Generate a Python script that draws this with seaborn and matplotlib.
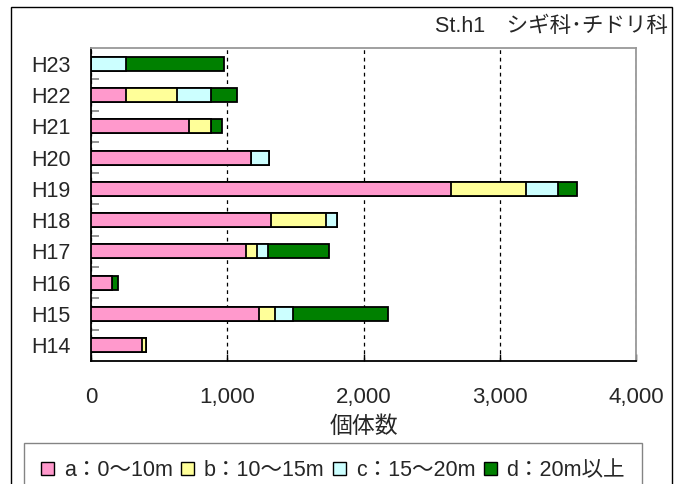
import matplotlib
matplotlib.use("Agg")
import matplotlib.pyplot as plt
from matplotlib.patches import Patch, Rectangle
from matplotlib.ticker import FuncFormatter, FixedLocator
import pandas as pd
import seaborn as sns

# Survey years (top to bottom) and individual counts by distance band
years = ["H23", "H22", "H21", "H20", "H19", "H18", "H17", "H16", "H15", "H14"]
band_a = [0, 257, 716, 1174, 2639, 1319, 1138, 157, 1236, 372]
band_b = [0, 376, 162, 0, 552, 406, 80, 0, 114, 34]
band_c = [257, 245, 0, 132, 233, 83, 83, 0, 133, 0]
band_d = [720, 195, 85, 0, 146, 0, 444, 39, 700, 0]

band_labels = ["a：0～10m", "b：10～15m", "c：15～20m", "d：20m以上"]
band_colors = ["#FF99CC", "#FFFF99", "#CCFFFF", "#008000"]
x_ticks = [0, 1000, 2000, 3000, 4000]

df = pd.DataFrame({"year": years, "a": band_a, "b": band_b, "c": band_c, "d": band_d})
cols = ["a", "b", "c", "d"]
cum = df[cols].cumsum(axis=1)
for col in cols:
    df["cum_" + col] = cum[col]

sns.set_theme(style="white")
plt.rcParams["font.family"] = ["Liberation Sans", "Noto Sans CJK JP", "DejaVu Sans"]

fig = plt.figure(figsize=(6.8, 4.84), dpi=100)
ax = fig.add_axes([91 / 680, 1 - 361 / 484, (636 - 91) / 680, (361 - 48) / 484])

# Stacked bars: draw running totals from the outermost band inwards
for col, color in reversed(list(zip(cols, band_colors))):
    sns.barplot(data=df, x="cum_" + col, y="year", order=years, orient="h",
                color=color, saturation=1, edgecolor="black", linewidth=1.3,
                width=0.45, errorbar=None, ax=ax, zorder=3)

ax.set_xlim(0, 4000)
ax.set_ylim(len(years) - 0.5, -0.5)
ax.xaxis.set_major_locator(FixedLocator(x_ticks))
ax.xaxis.set_major_formatter(FuncFormatter(lambda v, p: f"{int(v):,}"))
ax.grid(axis="x", color="black", linestyle=(0, (3, 3)), linewidth=0.9, zorder=1)
ax.set_axisbelow(True)

ax.tick_params(axis="x", direction="in", length=5, width=1, color="black",
               labelsize=16, pad=19, bottom=True)
ax.tick_params(axis="y", length=0, labelsize=15.5, pad=14.5)
ax.yaxis.set_minor_locator(FixedLocator([i + 0.5 for i in range(len(years) - 1)]))
ax.tick_params(axis="y", which="minor", direction="in", length=6, width=1.2,
               color="#808080", left=True)

for side in ["left", "bottom"]:
    ax.spines[side].set_color("black")
    ax.spines[side].set_linewidth(1.3)
for side in ["top", "right"]:
    ax.spines[side].set_color("#999999")
    ax.spines[side].set_linewidth(1.3)

ax.set_ylabel("")
ax.set_xlabel("個体数", fontsize=16.5, labelpad=5)

fig.text(668 / 680, 1 - 27 / 484, "St.h1　シギ科･チドリ科", ha="right", va="center",
         fontsize=15.5)

handles = [Patch(facecolor=c, edgecolor="black", linewidth=1.0) for c in band_colors]
leg_top = 1 - 443 / 484
leg_h = 0.1
leg = fig.legend(handles, band_labels, loc="upper left",
                 bbox_to_anchor=(24 / 680, leg_top - leg_h, (642 - 24) / 680, leg_h),
                 mode="expand", ncol=4, frameon=True,
                 fancybox=False, edgecolor="#666666", fontsize=15.5,
                 handlelength=0.6, handleheight=0.6, handletextpad=0.45,
                 columnspacing=0.4, borderpad=0.8, borderaxespad=0)
leg.get_frame().set_linewidth(1.0)

# Frame around the whole chart
fig.add_artist(Rectangle((11 / 680, -0.1), (672 - 11) / 680, 1.1 - 7 / 484,
                         transform=fig.transFigure, fill=False,
                         edgecolor="black", linewidth=1.0))

fig.savefig("out.png", dpi=100)
